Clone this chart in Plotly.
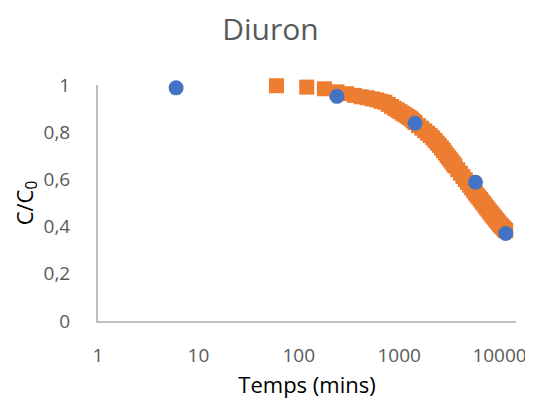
import plotly.graph_objects as go

# measured points (blue circles)
t_exp = [6, 240, 1440, 5760, 11520]
c_exp = [0.988, 0.952, 0.838, 0.588, 0.371]

# model curve (orange squares)
t_model = [60, 120, 180, 240, 300, 360, 420, 480, 540, 600, 660, 720, 780, 840, 900,
           960, 1020, 1080, 1140, 1200, 1260, 1320, 1380, 1440, 1560, 1680, 1800, 1920,
           2040, 2160, 2280, 2400, 2520, 2640, 2760, 2880, 3000, 3120, 3240, 3360, 3480,
           3600, 3840, 4080, 4320, 4560, 4800, 5040, 5280, 5520, 5760, 6000, 6240, 6480,
           6720, 6960, 7200, 7440, 7680, 7920, 8160, 8400, 8640, 8880, 9120, 9360, 9600,
           9840, 10080, 10320, 10560, 10800, 11040, 11280, 11520]
c_model = [0.997, 0.991, 0.984, 0.971, 0.963, 0.956, 0.950, 0.946, 0.941, 0.937, 0.931,
           0.927, 0.918, 0.909, 0.901, 0.894, 0.887, 0.880, 0.874, 0.868, 0.862, 0.856,
           0.848, 0.841, 0.828, 0.817, 0.806, 0.796, 0.786, 0.776, 0.765, 0.754, 0.744,
           0.733, 0.723, 0.712, 0.701, 0.692, 0.683, 0.674, 0.665, 0.657, 0.641, 0.626,
           0.612, 0.599, 0.587, 0.575, 0.564, 0.553, 0.542, 0.532, 0.523, 0.514, 0.505,
           0.497, 0.488, 0.480, 0.473, 0.465, 0.458, 0.451, 0.445, 0.439, 0.432, 0.426,
           0.421, 0.415, 0.409, 0.405, 0.400, 0.396, 0.391, 0.387, 0.383]

x_ticks = [1, 10, 100, 1000, 10000]
x_ticktext = ["1", "10", "100", "1000", "10000"]
y_ticks = [0, 0.2, 0.4, 0.6, 0.8, 1]
y_ticktext = ["0", "0,2", "0,4", "0,6", "0,8", "1"]

fig = go.Figure()
fig.add_trace(go.Scatter(x=t_model, y=c_model, mode="markers", cliponaxis=False,
                         marker=dict(symbol="square", size=15, color="#ED7D31"),
                         showlegend=False))
fig.add_trace(go.Scatter(x=t_exp, y=c_exp, mode="markers", cliponaxis=False,
                         marker=dict(symbol="circle", size=15, color="#4472C4"),
                         showlegend=False))

# page body adds an 8px margin top/left, so the figure is 8px smaller than the window
fig.update_layout(
    width=525, height=397,
    margin=dict(l=90, r=17, t=77, b=84, autoexpand=False),
    paper_bgcolor="white", plot_bgcolor="white",
    font=dict(family="Open Sans", color="#595959"),
    title=dict(text="Diuron", x=0.5, xanchor="center", y=0.945, yanchor="middle",
               font=dict(size=30, color="#595959")),
    xaxis=dict(type="log", range=[0, 4.164], tickvals=x_ticks, ticktext=x_ticktext,
               showgrid=False, zeroline=False, showline=True, linecolor="#BFBFBF",
               linewidth=2, ticks="", ticklabelstandoff=16, automargin=False,
               ticklabeloverflow="allow",
               tickfont=dict(size=19, color="#595959"),
               title=dict(text="Temps (mins)", standoff=11,
                          font=dict(size=22, color="black"))),
    yaxis=dict(range=[0, 1], tickvals=y_ticks, ticktext=y_ticktext,
               showgrid=False, zeroline=False, showline=True, linecolor="#BFBFBF",
               linewidth=2, ticks="", ticklabelstandoff=22, automargin=False,
               tickfont=dict(size=19, color="#595959"),
               title=dict(text="C/C<sub>0</sub>", standoff=4,
                          font=dict(size=22, color="black"))),
)

fig.write_html("out.html")
